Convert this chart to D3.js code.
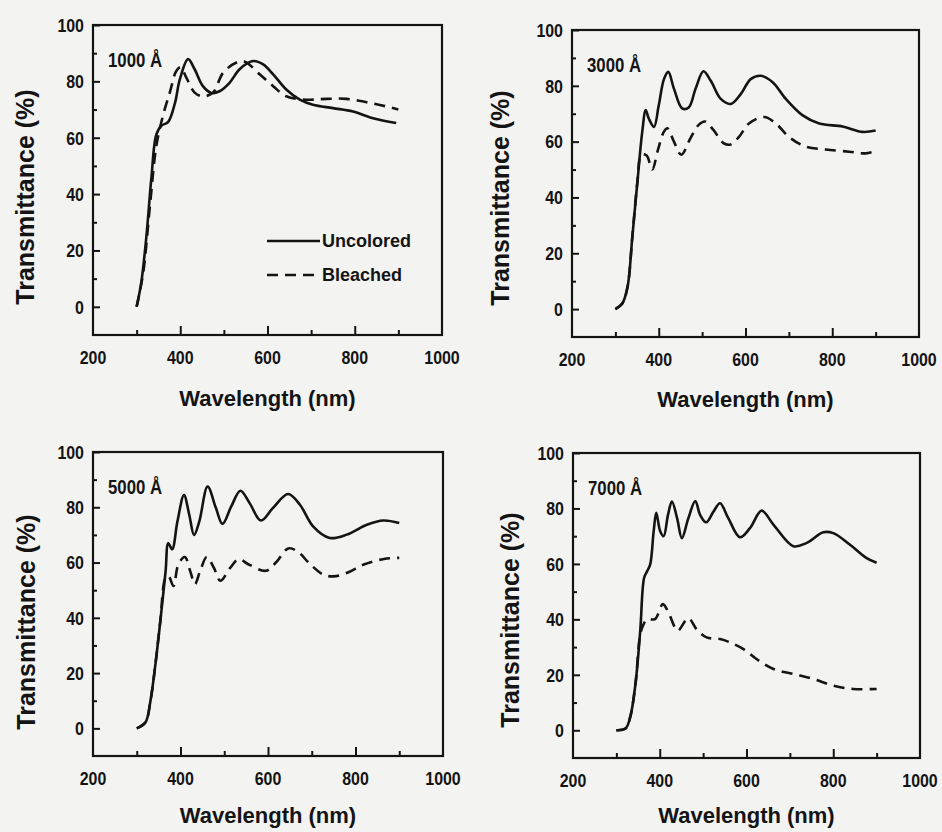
<!DOCTYPE html>
<html>
<head>
<meta charset="utf-8">
<script src="https://cdn.jsdelivr.net/npm/d3@7"></script>
<style>
  html, body { margin: 0; padding: 0; background: #f3f3f2; }
  svg { display: block; }
  text { font-family: "Liberation Sans", Arial, sans-serif; font-weight: bold; fill: #141414; }
</style>
</head>
<body>
<svg id="chart" width="942" height="832"></svg>
<script>
// ---------- data (wavelength nm, transmittance %) ----------
const thicknessLabels = ["1000 Å", "3000 Å", "5000 Å", "7000 Å"];
const seriesNames = ["Uncolored", "Bleached"];
const xTickLabels = [200, 400, 600, 800, 1000];
const yTickLabels = [0, 20, 40, 60, 80, 100];

const uncolored1000 = [[300,0],[311,9],[323,26],[334,46],[345,61],[357,64.3],[372,65.5],[388,72.4],[399,80.7],[418,87.9],[433,84.3],[452,78.3],[471,75.9],[490,76.5],[513,79.5],[536,84.3],[567,87.2],[590,86],[613,82.5],[643,77.1],[674,73.5],[704,71.7],[750,70.5],[796,69.3],[842,66.9],[895,65.2]];
const bleached1000 = [[300,0],[315,12],[331,36.6],[345,56.9],[360,67.6],[376,76],[391,83.7],[401,85],[414,81.3],[433,76],[452,74.7],[475,76],[498,83],[529,86.7],[548,87],[582,82.5],[613,78.3],[643,74.7],[689,73.5],[735,73.8],[781,73.8],[827,72.6],[870,71.2],[900,70]];

const uncolored3000 = [[300,0],[316,2],[328,7.9],[339,25.7],[351,45.9],[362,63.6],[370,71.3],[377,68.3],[389,65.3],[400,73],[412,82.4],[422,85],[435,79],[454,71.9],[469,72.2],[485,79],[503,85.2],[520,81.8],[543,75.3],[566,73.5],[589,77],[612,82.4],[635,83.6],[662,81.4],[693,75.3],[731,69.5],[770,66.5],[824,65.4],[870,63.5],[900,64]];
const bleached3000 = [[300,0],[316,2],[328,7.9],[339,25.7],[351,45.9],[360,55.3],[372,55],[385,50],[398,57],[412,63.6],[420,64.8],[435,60],[452,55.3],[473,61.2],[492,66],[507,67.2],[526,64.2],[549,59.5],[566,59],[585,61.7],[608,66.5],[643,68.8],[670,66.5],[700,61.7],[739,58.2],[785,57.2],[839,56.4],[877,55.8],[900,56.6]];

const uncolored5000 = [[300,0],[320,2.2],[331,9.6],[343,23.6],[354,39],[366,57],[372,67],[381,64.8],[393,74.9],[408,84.4],[420,77.3],[431,70],[443,74.9],[462,87.5],[481,79.7],[496,74],[516,80.3],[537,86],[558,81.5],[584,75.2],[611,79.7],[646,84.8],[673,80.9],[703,73.1],[741,68.9],[780,70.1],[826,73.7],[864,75.2],[900,74.3]];
const bleached5000 = [[300,0],[320,2.2],[331,9.6],[343,23.6],[354,39],[366,54.5],[373,55],[384,51.5],[395,59.3],[410,62],[422,57],[433,52.2],[445,57],[460,62],[476,58.2],[491,53.4],[514,58.2],[533,61.2],[556,59.3],[595,57],[618,60],[646,65.1],[666,64.2],[697,59.3],[727,55.6],[750,55],[781,56.3],[819,59.3],[865,61.3],[900,61.7]];

const uncolored7000 = [[300,0],[321,0.6],[332,4.8],[344,16.7],[355,35.9],[364,55],[371,57.4],[378,59.8],[386,71.8],[392,78.4],[401,71.8],[409,70],[419,77.7],[428,82.5],[440,76.5],[451,69.3],[466,76.5],[482,82.7],[493,77.7],[507,75],[524,78.9],[539,81.9],[558,76.5],[585,69.6],[608,72.9],[635,79.2],[662,74.2],[708,66.4],[739,67.6],[777,71.4],[800,71.1],[838,67],[876,62.2],[900,60.4]];
const bleached7000 = [[300,0],[321,0.6],[332,4.8],[344,16.7],[355,34.6],[362,38],[370,40],[389,40.1],[407,45.5],[420,42.5],[435,37.1],[442,35.9],[466,40.4],[485,36.4],[508,33.5],[539,32.9],[562,31.7],[593,29.3],[623,25.7],[662,22.1],[708,20.3],[754,18.5],[800,16.1],[846,14.9],[900,14.9]];

const uncoloredSets = [uncolored1000, uncolored3000, uncolored5000, uncolored7000];
const bleachedSets = [bleached1000, bleached3000, bleached5000, bleached7000];

// ---------- layout ----------
const frames = [
  {left: 93,  right: 442, top: 25,  bottom: 335, ytx: 25,  yty: 197, xtOff: 71},
  {left: 572, right: 919, top: 30,  bottom: 337, ytx: 500, yty: 198, xtOff: 70},
  {left: 93,  right: 443, top: 452, bottom: 756, ytx: 26,  yty: 622, xtOff: 67},
  {left: 573, right: 920, top: 453, bottom: 758, ytx: 510, yty: 620, xtOff: 65}
];

const svg = d3.select("#chart");
const ink = "#141414";
const squeeze = 0.84; // condensed look of the original lettering

frames.forEach((f, i) => {
  const x = d3.scaleLinear().domain([200, 1000]).range([f.left, f.right]);
  const y = d3.scaleLinear().domain([-10, 100]).range([f.bottom, f.top]);
  const g = svg.append("g");

  const styleTicks = s => {
    s.select(".domain").remove();
    s.selectAll("line").attr("stroke", ink).attr("stroke-width", 2);
  };

  // y axis: major and minor ticks pointing inward
  g.append("g").attr("transform", `translate(${f.left},0)`)
    .call(d3.axisRight(y).tickValues(yTickLabels).tickSize(7).tickFormat("")).call(styleTicks);
  g.append("g").attr("transform", `translate(${f.left},0)`)
    .call(d3.axisRight(y).tickValues([10, 30, 50, 70, 90]).tickSize(4).tickFormat("")).call(styleTicks);
  g.selectAll(".ylab").data(yTickLabels).enter().append("text")
    .attr("transform", d => `translate(${f.left - 9},${y(d)}) scale(${squeeze},1)`)
    .attr("dy", "0.36em").attr("text-anchor", "end").style("font-size", "19px").text(d => d);

  // x axis ticks inward
  g.append("g").attr("transform", `translate(0,${f.bottom})`)
    .call(d3.axisTop(x).tickValues([400, 600, 800]).tickSize(9).tickFormat("")).call(styleTicks);
  g.append("g").attr("transform", `translate(0,${f.bottom})`)
    .call(d3.axisTop(x).tickValues([300, 500, 700, 900]).tickSize(5).tickFormat("")).call(styleTicks);
  g.selectAll(".xlab").data(xTickLabels).enter().append("text")
    .attr("transform", d => `translate(${x(d)},${f.bottom + 29}) scale(${squeeze},1)`)
    .attr("text-anchor", "middle").style("font-size", "19px").text(d => d);

  // frame
  g.append("rect").attr("x", f.left).attr("y", f.top)
    .attr("width", f.right - f.left).attr("height", f.bottom - f.top)
    .attr("fill", "none").attr("stroke", ink).attr("stroke-width", 2.2);

  // axis titles
  g.append("text").attr("x", (f.left + f.right) / 2).attr("y", f.bottom + f.xtOff)
    .attr("text-anchor", "middle").style("font-size", "22px").text("Wavelength (nm)");
  g.append("text").attr("transform", `translate(${f.ytx},${f.yty}) rotate(-90)`)
    .attr("text-anchor", "middle").attr("dy", "0.36em").style("font-size", "25px")
    .text("Transmittance (%)");

  // curves
  const line = d3.line().x(d => x(d[0])).y(d => y(d[1])).curve(d3.curveCatmullRom.alpha(0.5));
  g.append("path").datum(uncoloredSets[i]).attr("d", line)
    .attr("fill", "none").attr("stroke", ink).attr("stroke-width", 2.6).attr("stroke-linejoin", "round");
  g.append("path").datum(bleachedSets[i]).attr("d", line)
    .attr("fill", "none").attr("stroke", ink).attr("stroke-width", 2.6)
    .attr("stroke-dasharray", "11,7");

  // thickness label
  g.append("text").attr("transform", `translate(${f.left + 15},${f.top + 42}) scale(${squeeze},1)`)
    .style("font-size", "20px").text(thicknessLabels[i]);

  // legend only in first panel
  if (i === 0) {
    const lx0 = f.left + 174, lx1 = f.left + 227;
    const ly = [f.top + 216, f.top + 250];
    g.append("line").attr("x1", lx0).attr("x2", lx1).attr("y1", ly[0]).attr("y2", ly[0])
      .attr("stroke", ink).attr("stroke-width", 2.6);
    g.append("line").attr("x1", lx0).attr("x2", lx1).attr("y1", ly[1]).attr("y2", ly[1])
      .attr("stroke", ink).attr("stroke-width", 2.6).attr("stroke-dasharray", "11,7");
    seriesNames.forEach((n, k) => {
      g.append("text").attr("x", lx1 + 2).attr("y", ly[k]).attr("dy", "0.36em")
        .style("font-size", "18px").text(n);
    });
  }
});
</script>
</body>
</html>
